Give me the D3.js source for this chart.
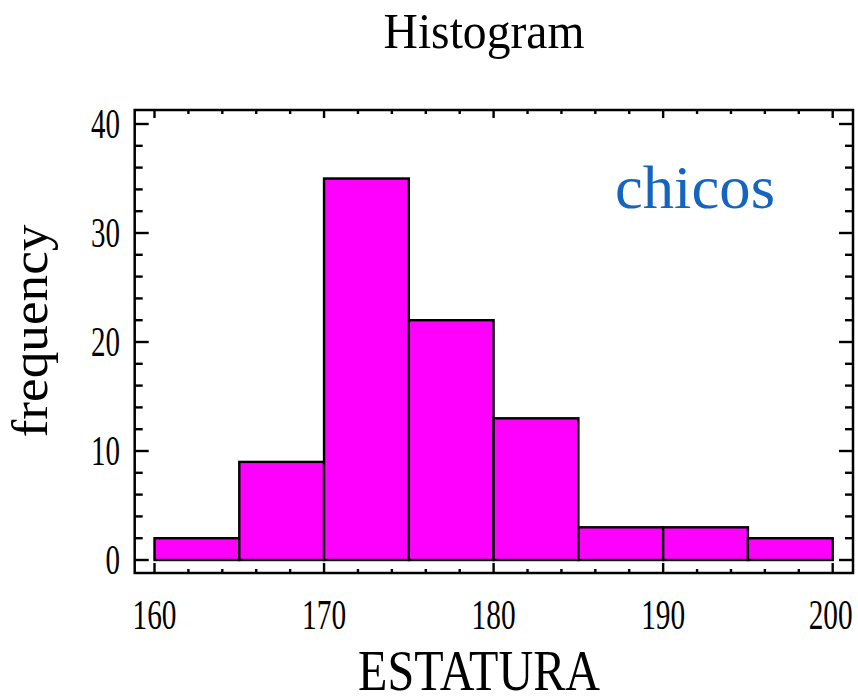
<!DOCTYPE html>
<html lang="en">
<head>
    <meta charset="UTF-8">
    <title>Histogram</title>
    <style>
        body { margin: 0; background: #fff; }
        text { font-family: "Liberation Serif", "Times New Roman", serif; }
    </style>
</head>
<body>
    <svg id="chart" width="858" height="698"></svg>

    <script src="https://cdn.jsdelivr.net/npm/d3@7"></script>
    <script>
        // bin edges and counts (ESTATURA, chicos)
        var binStarts = [160, 165, 170, 175, 180, 185, 190, 195];
        var binWidth = 5;
        var counts = [2, 9, 35, 22, 13, 3, 3, 2];
        var xTicks = [160, 170, 180, 190, 200];
        var yTicks = [0, 10, 20, 30, 40];

        var svg = d3.select("#chart");

        // frame in pixels (don't call these top/left, window.top is taken)
        var frameL = 134.7, frameR = 853, frameT = 110, frameB = 573;

        var x = d3.scaleLinear().domain([160, 200]).range([154.5, 832.7]);
        var y = d3.scaleLinear().domain([0, 40]).range([560, 124]);

        // bars
        svg.selectAll("rect.bar")
            .data(counts)
            .enter().append("rect")
            .attr("class", "bar")
            .attr("x", function(d, i) { return x(binStarts[i]); })
            .attr("width", function(d, i) { return x(binStarts[i] + binWidth) - x(binStarts[i]); })
            .attr("y", function(d) { return y(d); })
            .attr("height", function(d) { return y(0) - y(d); })
            .attr("fill", "#ff00ff")
            .attr("stroke", "#000")
            .attr("stroke-width", 2.4);

        // minor tick values
        var xMinor = d3.range(160, 200.1, 2).filter(function(v) { return v % 10 !== 0; });
        var yMinor = d3.range(0, 40.1, 2).filter(function(v) { return v % 10 !== 0; });

        var ticks = svg.append("g").attr("stroke", "#000").attr("stroke-width", 2.4);

        // bottom and top ticks
        xTicks.forEach(function(v) {
            ticks.append("line").attr("x1", x(v)).attr("x2", x(v)).attr("y1", frameB).attr("y2", frameB - 10);
            ticks.append("line").attr("x1", x(v)).attr("x2", x(v)).attr("y1", frameT).attr("y2", frameT + 8);
        });
        xMinor.forEach(function(v) {
            ticks.append("line").attr("x1", x(v)).attr("x2", x(v)).attr("y1", frameB).attr("y2", frameB - 4);
            ticks.append("line").attr("x1", x(v)).attr("x2", x(v)).attr("y1", frameT).attr("y2", frameT + 4);
        });
        // left and right ticks
        yTicks.forEach(function(v) {
            ticks.append("line").attr("x1", frameL).attr("x2", frameL + 14).attr("y1", y(v)).attr("y2", y(v));
            ticks.append("line").attr("x1", frameR).attr("x2", frameR - 14).attr("y1", y(v)).attr("y2", y(v));
        });
        yMinor.forEach(function(v) {
            ticks.append("line").attr("x1", frameL).attr("x2", frameL + 8).attr("y1", y(v)).attr("y2", y(v));
            ticks.append("line").attr("x1", frameR).attr("x2", frameR - 8).attr("y1", y(v)).attr("y2", y(v));
        });

        // frame
        svg.append("rect")
            .attr("x", frameL).attr("y", frameT)
            .attr("width", frameR - frameL).attr("height", frameB - frameT)
            .attr("fill", "none").attr("stroke", "#000").attr("stroke-width", 2.5);

        // tick labels
        svg.selectAll("text.xlab")
            .data(xTicks)
            .enter().append("text")
            .attr("class", "xlab")
            .attr("x", function(d) { return d === 200 ? x(d) - 2 : x(d); })
            .attr("y", 629)
            .attr("text-anchor", "middle")
            .attr("font-size", 42)
            .attr("textLength", 44)
            .attr("lengthAdjust", "spacingAndGlyphs")
            .text(function(d) { return d; });

        svg.selectAll("text.ylab")
            .data(yTicks)
            .enter().append("text")
            .attr("class", "ylab")
            .attr("x", 120)
            .attr("y", function(d) { return y(d) + 14; })
            .attr("text-anchor", "end")
            .attr("font-size", 42)
            .attr("textLength", function(d) { return String(d).length * 14.5; })
            .attr("lengthAdjust", "spacingAndGlyphs")
            .text(function(d) { return d; });

        // title and axis labels
        svg.append("text")
            .attr("x", 484).attr("y", 48)
            .attr("text-anchor", "middle")
            .attr("font-size", 50)
            .attr("textLength", 201)
            .attr("lengthAdjust", "spacingAndGlyphs")
            .text("Histogram");

        svg.append("text")
            .attr("x", 479).attr("y", 690)
            .attr("text-anchor", "middle")
            .attr("font-size", 58)
            .attr("textLength", 242)
            .attr("lengthAdjust", "spacingAndGlyphs")
            .text("ESTATURA");

        svg.append("text")
            .attr("transform", "translate(47,331) rotate(-90)")
            .attr("text-anchor", "middle")
            .attr("font-size", 50)
            .attr("textLength", 213)
            .attr("lengthAdjust", "spacingAndGlyphs")
            .text("frequency");

        svg.append("text")
            .attr("x", 615).attr("y", 208)
            .attr("font-size", 62)
            .attr("fill", "#1565c0")
            .attr("textLength", 160)
            .attr("lengthAdjust", "spacingAndGlyphs")
            .text("chicos");
    </script>
</body>
</html>
